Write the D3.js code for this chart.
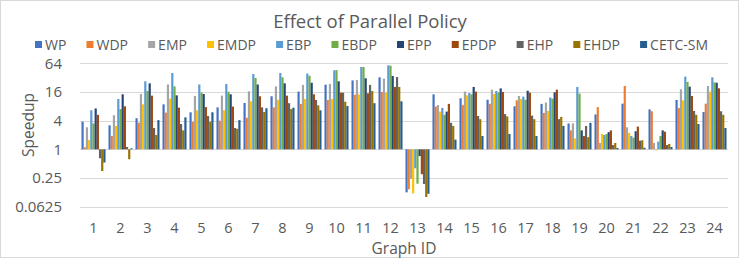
<!DOCTYPE html>
<meta charset="utf-8">
<title>Effect of Parallel Policy</title>
<style>
body {
  margin: 0px;
  background: #fff;
}
text {
  font-family: "Open Sans", sans-serif;
  fill: #595959;
}
</style>
<script src="https://d3js.org/d3.v7.min.js"></script>
<body>
<script>
var width = 739, height = 259;

// graph ids on the x axis
var graphs = ["1","2","3","4","5","6","7","8","9","10","11","12",
              "13","14","15","16","17","18","19","20","21","22","23","24"];

var seriesNames = ["WP","WDP","EMP","EMDP","EBP","EBDP","EPP","EPDP","EHP","EHDP","CETC-SM"];
var colors = ["#4472c4","#ed7d31","#a5a5a5","#ffc000","#5b9bd5","#70ad47",
              "#264478","#9e480e","#636363","#997300","#255e91"];

// speedup values
var wp   = [3.8, 3.2, 4.5, 8.8, 6.0, 7.6, 9.4, 13, 16.3, 22.8, 28, 32.5, 0.125, 14.3, 11.8, 11, 8.0, 9.0, 3.5, 5.4, 9.1, 6.9, 10.9, 6.1];
var wdp  = [1.1, 1.9, 3.6, 5.9, 3.8, 4.0, 4.6, 7.6, 9.0, 10.9, 14, 16, 0.145, 7.9, 8.5, 9, 10.7, 5.8, 2.5, 7.7, 21.4, 6.3, 7.4, 9.1];
var emp  = [2.9, 5.2, 14.5, 23, 13.2, 13.4, 16.5, 21, 22.5, 23.6, 28.6, 30.5, 0.24, 8.5, 16.3, 17.9, 13.2, 9.6, 3.5, 1.36, 2.9, 1.36, 18.2, 21.4];
var emdp = [1.57, 3.1, 8.8, 11.6, 6.6, 6.6, 10.2, 10.9, 11.4, 11.4, 14.3, 15.5, 0.119, 6.2, 13.6, 14.5, 11.4, 6.4, 1.7, 2.1, 2.2, 0.95, 10.7, 16.3];
var ebp  = [6.6, 11.4, 26.8, 40, 23, 23.6, 38, 40, 39, 45.6, 53.5, 58, 0.40, 7.4, 15.2, 16.8, 12.8, 12.2, 20.4, 2.0, 1.9, 1.45, 33.6, 32.5];
var ebdp = [3.5, 7.0, 16.8, 21, 15.5, 16.2, 31.5, 32.5, 35, 46, 53.5, 57, 0.19, 5.3, 14.3, 15.5, 11, 11.6, 14.8, 2.1, 1.76, 1.9, 26, 25.5];
var epp  = [7.2, 14.3, 24.3, 13.6, 14.5, 14.3, 23, 24.3, 25, 26.8, 31, 34.7, 0.72, 6.2, 20.4, 19, 17, 15.8, 2.5, 2.3, 2.4, 2.5, 20.7, 25];
var epdp = [5.3, 8.0, 13.4, 7.5, 7.7, 7.9, 13, 13.4, 14.3, 15.5, 15, 20.4, 0.30, 9.0, 16.3, 16, 15.5, 17.9, 1.9, 2.5, 3.0, 2.35, 13.2, 19.1];
var ehp  = [0.65, 1.12, 2.8, 3.4, 5.0, 2.8, 7.6, 9.3, 10.9, 15.5, 22.5, 33, 0.187, 3.6, 5.0, 5.5, 5.1, 4.3, 3.1, 1.23, 1.52, 1.23, 6.4, 6.3];
var ehdp = [0.35, 0.62, 2.0, 2.5, 3.8, 2.7, 6.1, 7.0, 8.4, 10, 16.8, 20.4, 0.10, 3.1, 4.3, 4.9, 4.3, 4.8, 1.8, 1.36, 1.55, 1.3, 5.3, 5.3];
var cetc = [0.53, 1.05, 4.1, 4.7, 6.0, 4.1, 7.3, 7.5, 6.6, 8.1, 9.3, 10.2, 0.117, 1.6, 1.9, 2.1, 1.9, 3.1, 3.6, 1.07, 1.08, 1.12, 3.4, 2.8];

var yTicks = [0.0625, 0.25, 1, 4, 16, 64];

var allSeries = [wp, wdp, emp, emdp, ebp, ebdp, epp, epdp, ehp, ehdp, cetc];

var svg = d3.select("body").append("svg")
    .attr("width", width)
    .attr("height", height);

// chart border
svg.append("rect")
    .attr("x", 0.5).attr("y", 0.5)
    .attr("width", width - 1).attr("height", height - 2)
    .style("fill", "none")
    .style("stroke", "#d9d9d9");

var x0 = d3.scaleBand()
    .domain(graphs)
    .range([80, 728])
    .paddingInner(0.11)
    .paddingOuter(0.055);

var x1 = d3.scaleBand()
    .domain(seriesNames)
    .range([0, x0.bandwidth()]);

var y = d3.scaleLog()
    .base(2)
    .domain([0.0625, 64])
    .range([206.7, 63.3]);

// gridlines
svg.append("g").selectAll("line")
    .data(yTicks)
  .enter().append("line")
    .attr("x1", 80).attr("x2", 728)
    .attr("y1", function(d) { return Math.round(y(d)) + 0.5; })
    .attr("y2", function(d) { return Math.round(y(d)) + 0.5; })
    .style("stroke", "#d9d9d9");

// y tick labels
svg.append("g").selectAll("text")
    .data(yTicks)
  .enter().append("text")
    .attr("x", 62)
    .attr("y", function(d) { return y(d); })
    .attr("dy", "0.35em")
    .attr("text-anchor", "end")
    .style("font-size", "15px")
    .text(function(d) { return d; });

// bars, drawn from 1 up or down
var groups = svg.append("g").selectAll("g")
    .data(graphs)
  .enter().append("g")
    .attr("transform", function(d) { return "translate(" + x0(d) + ",0)"; });

groups.selectAll("rect")
    .data(function(d, gi) {
      return seriesNames.map(function(s, si) { return {name: s, i: si, v: allSeries[si][gi]}; });
    })
  .enter().append("rect")
    .attr("x", function(d) { return x1(d.name); })
    .attr("width", x1.bandwidth())
    .attr("y", function(d) { return Math.min(y(d.v), y(1)); })
    .attr("height", function(d) { return Math.abs(y(d.v) - y(1)); })
    .style("fill", function(d) { return colors[d.i]; });

// x tick labels
svg.append("g").selectAll("text")
    .data(graphs)
  .enter().append("text")
    .attr("x", function(d) { return x0(d) + x0.bandwidth() / 2; })
    .attr("y", 232.5)
    .attr("text-anchor", "middle")
    .style("font-size", "14.5px")
    .text(function(d) { return d; });

// axis titles
svg.append("text")
    .attr("x", 404).attr("y", 253.5)
    .attr("text-anchor", "middle")
    .style("font-size", "15.5px")
    .text("Graph ID");

svg.append("text")
    .attr("transform", "translate(34,125) rotate(-90)")
    .attr("text-anchor", "middle")
    .style("font-size", "15.5px")
    .text("Speedup");

// title
svg.append("text")
    .attr("x", 370).attr("y", 28)
    .attr("text-anchor", "middle")
    .style("font-size", "18.5px")
    .text("Effect of Parallel Policy");

// legend, laid out by text width and centred
var legend = svg.append("g");
var items = legend.selectAll("g")
    .data(seriesNames)
  .enter().append("g");
items.append("rect")
    .attr("width", 7).attr("height", 7)
    .attr("y", 41)
    .style("fill", function(d, i) { return colors[i]; });
items.append("text")
    .attr("x", 10).attr("y", 50)
    .style("font-size", "14px")
    .text(function(d) { return d; });

var widths = [];
items.selectAll("text").each(function() { widths.push(this.getComputedTextLength()); });
var span = 708 - 35;
var used = d3.sum(widths) + widths.length * 10;
var gap = (span - used) / (widths.length - 1);
var pos = 35;
items.attr("transform", function(d, i) {
  var t = "translate(" + pos + ",0)";
  pos += 10 + widths[i] + gap;
  return t;
});
</script>
